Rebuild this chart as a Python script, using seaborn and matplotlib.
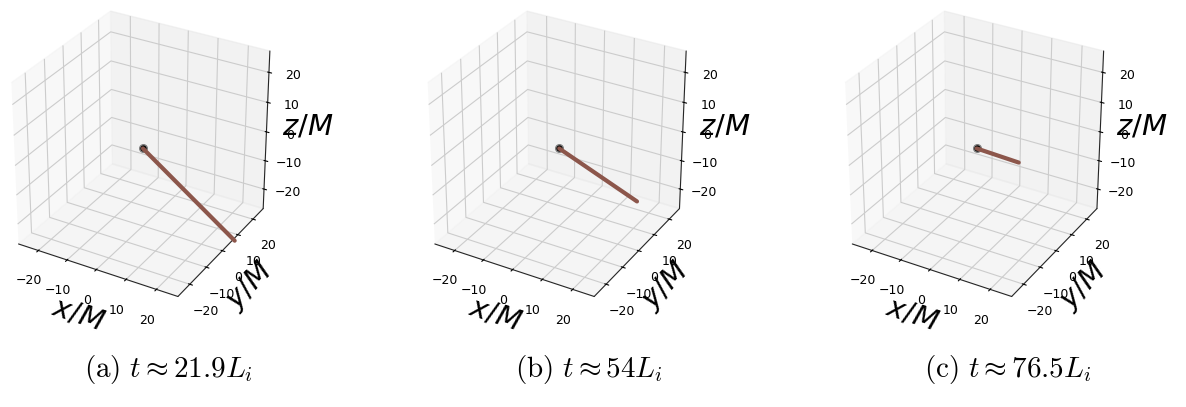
import numpy as np
import seaborn as sns
import matplotlib.pyplot as plt

# trajectory endpoints (x, y, z in units of M)
captions = ["(a)", "(b)", "(c)"]
times = ["21.9", "54", "76.5"]
start = [0.0, 0.0, 0.0]
end_x = [27.0, 24.0, 13.0]
end_y = [8.0, 4.0, 2.0]
end_z = [-28.0, -13.0, -2.0]
ticks = [-20, -10, 0, 10, 20]

sns.set_style("white", {"text.color": "black", "axes.labelcolor": "black",
                        "xtick.color": "black", "ytick.color": "black"})
line_color = sns.color_palette("tab10")[5]

fig = plt.figure(figsize=(11.86, 4.07), dpi=100)
lefts = [-0.019, 0.332, 0.684]
cap_x = [168, 589, 1008]
lab = dict(fontsize=21, math_fontfamily='dejavusans')

for i in range(3):
    ax = fig.add_axes([lefts[i], 0.245, 0.272, 0.76], projection='3d')
    ax.set_box_aspect((1, 1, 1))
    xs = np.linspace(start[0], end_x[i], 50)
    ys = np.linspace(start[1], end_y[i], 50)
    zs = np.linspace(start[2], end_z[i], 50)
    ax.plot(xs, ys, zs, color=line_color, linewidth=3)
    ax.scatter([start[0]], [start[1]], [start[2]], color='black', s=30,
               edgecolor='grey', depthshade=False)
    ax.set_xlim(-27, 27)
    ax.set_ylim(-27, 27)
    ax.set_zlim(-27, 27)
    ax.set_xticks(ticks)
    ax.set_yticks(ticks)
    ax.set_zticks(ticks)
    ax.tick_params(labelsize=9)
    ax.set_xlabel("$x/M$", labelpad=0, **lab)
    ax.set_ylabel("$y/M$", labelpad=-1, **lab)
    ax.zaxis.set_rotate_label(False)
    ax.set_zlabel("$z/M$", rotation=0, labelpad=-1, **lab)
    fig.text(cap_x[i] / 1186, 0.091,
             r"$\mathrm{%s}\ t \approx %s L_i$" % (captions[i], times[i]),
             ha='center', va='center', fontsize=21, math_fontfamily='cm')

plt.savefig("out.png", dpi=100)
